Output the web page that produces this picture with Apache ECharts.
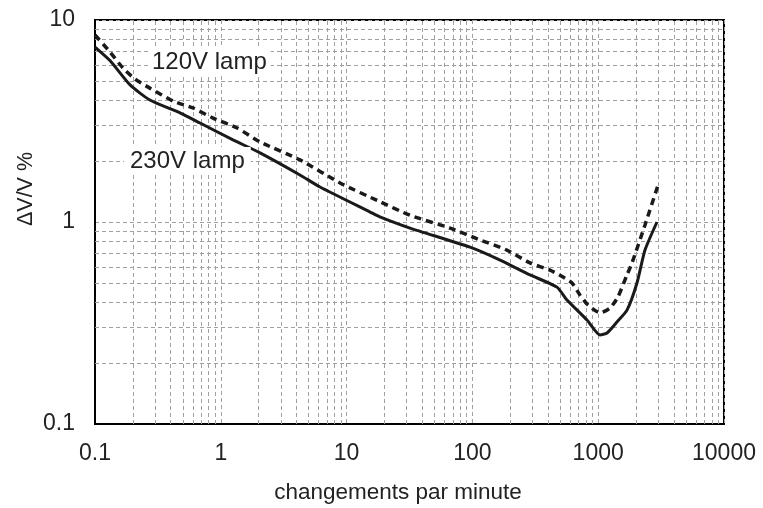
<!DOCTYPE html>
<html>
<head>
<meta charset="utf-8">
<script src="https://cdn.jsdelivr.net/npm/echarts@6/dist/echarts.min.js"></script>
<style>html,body{margin:0;padding:0;background:#fff}#c{width:763px;height:508px}</style>
</head>
<body>
<div id="c"></div>
<script>
// ---- data ----
const xTickLabels = ['0.1', '1', '10', '100', '1000', '10000'];
const yTickLabels = ['0.1', '1', '10'];
const lamp230X = [0.1, 0.1315, 0.19, 0.273, 0.474, 0.684, 1.25, 2.05, 4.26, 6.15, 15.4, 18.4, 31.9, 95.7, 166, 287, 470, 565, 815, 1033, 1175, 1410, 1694, 2033, 2355, 2933];
const lamp230Y = [7.35, 6.3, 4.77, 4.02, 3.47, 3.09, 2.55, 2.20, 1.71, 1.49, 1.12, 1.06, 0.933, 0.751, 0.648, 0.547, 0.476, 0.411, 0.327, 0.276, 0.282, 0.320, 0.366, 0.499, 0.726, 1.0];
const lamp120X = [0.1, 0.1315, 0.167, 0.208, 0.273, 0.417, 0.601, 0.867, 1.35, 2.05, 4.26, 8.87, 18.4, 31.9, 66.4, 115, 188, 287, 414, 525, 619, 716, 830, 1033, 1242, 1436, 1694, 1857, 2355, 2988];
const lamp120Y = [8.43, 6.95, 5.78, 5.10, 4.60, 3.97, 3.67, 3.27, 2.92, 2.49, 2.03, 1.56, 1.26, 1.08, 0.933, 0.815, 0.726, 0.627, 0.578, 0.534, 0.499, 0.435, 0.388, 0.355, 0.375, 0.426, 0.547, 0.627, 0.967, 1.52];
const xMinorGrid = [0.2,0.3,0.4,0.5,0.6,0.7,0.8,0.9, 2,3,4,5,6,7,8,9, 20,30,40,50,60,70,80,90, 200,300,400,500,600,700,800,900, 2000,3000,4000,5000,6000,7000,8000,9000];
const yMinorGrid = [0.2,0.3,0.4,0.5,0.6,0.7,0.8,0.9, 2,3,4,5,6,7,8,9];
const labels = { l120: '120V lamp', l230: '230V lamp', xTitle: 'changements par minute', yTitle: 'ΔV/V %' };

const zip = (xs, ys) => xs.map((x, i) => [x, ys[i]]);
const FONT = 'Liberation Sans';
const chart = echarts.init(document.getElementById('c'), null, { renderer: 'canvas' });

const gridStyle = { color: '#a0a0a0', type: [4, 3], width: 1 };

chart.setOption({
  animation: false,
  backgroundColor: '#fff',
  grid: { left: 95, top: 20, right: 39, bottom: 84, show: true, borderColor: '#000', borderWidth: 2, backgroundColor: 'transparent' },
  xAxis: {
    type: 'log', logBase: 10, min: 0.1, max: 10000,
    axisLine: { show: true, lineStyle: { color: '#000', width: 2 } },
    axisTick: { show: false },
    splitLine: { show: true, lineStyle: gridStyle },
    axisLabel: {
      margin: 18, color: '#222', fontFamily: FONT, fontSize: 23,
      formatter: v => xTickLabels[Math.round(Math.log10(v)) + 1]
    }
  },
  yAxis: {
    type: 'log', logBase: 10, min: 0.1, max: 10,
    axisLine: { show: true, lineStyle: { color: '#000', width: 2 } },
    axisTick: { show: false },
    splitLine: { show: true, lineStyle: gridStyle },
    axisLabel: {
      margin: 20, color: '#222', fontFamily: FONT, fontSize: 23,
      formatter: v => yTickLabels[Math.round(Math.log10(v)) + 1]
    }
  },
  graphic: [
    { type: 'text', x: 148, y: 62, z: 100, style: { text: labels.l120, font: '24px "Liberation Sans"', fill: '#222', verticalAlign: 'middle', backgroundColor: '#fff', padding: [2, 4] } },
    { type: 'text', x: 124, y: 161, z: 100, style: { text: labels.l230, font: '24px "Liberation Sans"', fill: '#222', verticalAlign: 'middle', backgroundColor: '#fff', padding: [2, 6] } },
    { type: 'text', x: 398, y: 493, style: { text: labels.xTitle, font: '22.5px "Liberation Sans"', fill: '#222', align: 'center', verticalAlign: 'middle' } },
    { type: 'text', x: 26, y: 189, rotation: Math.PI / 2, style: { text: labels.yTitle, font: '21.5px "Liberation Sans"', fill: '#222', align: 'center', verticalAlign: 'middle' } }
  ],
  series: [
    {
      type: 'line', name: 'grid', data: [], silent: true,
      markLine: {
        silent: true, symbol: 'none', label: { show: false },
        lineStyle: gridStyle, animation: false,
        data: xMinorGrid.map(v => ({ xAxis: v })).concat(yMinorGrid.map(v => ({ yAxis: v })))
      }
    },
    {
      type: 'line', name: '230V', data: zip(lamp230X, lamp230Y), showSymbol: false, smooth: 0.2,
      lineStyle: { color: '#1a1a1a', width: 3 }, z: 5
    },
    {
      type: 'line', name: '120V', data: zip(lamp120X, lamp120Y), showSymbol: false, smooth: 0.2,
      lineStyle: { color: '#1a1a1a', width: 3.5, type: [7, 5] }, z: 5
    }
  ]
});
</script>
</body>
</html>
